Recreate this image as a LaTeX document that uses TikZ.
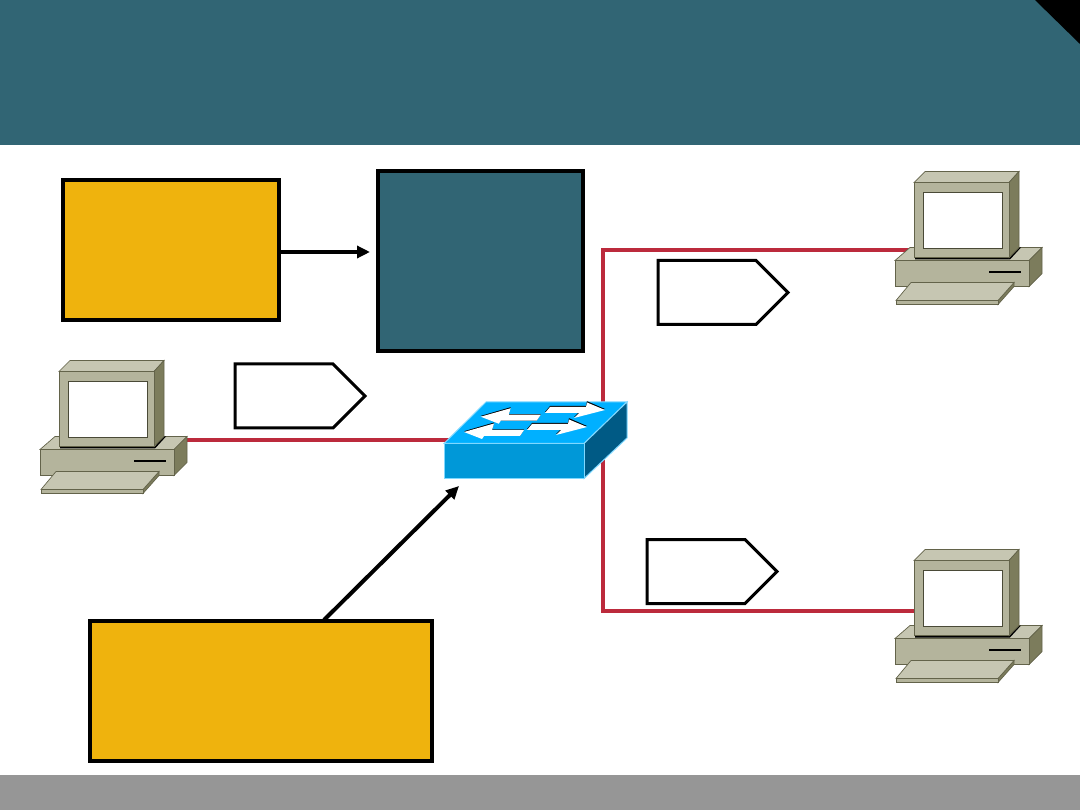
\documentclass[tikz,border=0pt]{standalone}
\usetikzlibrary{arrows.meta, shapes.symbols}
\definecolor{hdteal}{HTML}{316574}
\definecolor{hdgray}{HTML}{969696}
\definecolor{boxyellow}{HTML}{EFB30D}
\definecolor{linkred}{HTML}{BC2A3C}
\definecolor{pcfront}{HTML}{B4B49C}
\definecolor{pctop}{HTML}{C6C6B2}
\definecolor{pcside}{HTML}{7C7C5C}
\definecolor{swtopc}{HTML}{00B0FF}
\definecolor{swfront}{HTML}{0098D8}
\definecolor{swside}{HTML}{005A85}
\definecolor{swedge}{HTML}{7FD8FF}
\begin{document}
\begin{tikzpicture}[
  x=1pt,y=-1pt,
  solidbox/.style={rectangle, draw=black, fill=#1, line width=4pt, outer sep=0pt, inner sep=0pt},
  tagbox/.style={signal, signal to=east, signal pointer angle=90, draw=black, fill=white, line width=3pt, outer sep=0pt, inner sep=0pt, minimum width=130pt, minimum height=64pt},
  link/.style={linkred, line width=4pt},
  callout/.style={-{Triangle[length=13pt,width=12pt]}, black, line width=4pt},
  pcpart/.style={fill=#1, draw=pcside!80!black, line width=0.7pt},
  swpart/.style={fill=#1, draw=swedge, line width=1pt},
  pics/computer/.style={code={
    \path[pcpart=pctop] (0,89)--(15,76)--(147,76)--(134,89)--cycle;
    \path[pcpart=pcside] (134,89)--(147,76)--(147,102)--(134,115)--cycle;
    \path[pcpart=pcfront] (0,89) rectangle (134,115);
    \draw[black, line width=2pt] (94,100.5)--(126,100.5);
    \fill[black] (20,86)--(115,86)--(122,76)--(126,76)--(115,88)--(20,88)--cycle;
    \path[pcpart=pctop] (19,11)--(30,0)--(124,0)--(114,11)--cycle;
    \path[pcpart=pcside] (114,11)--(124,0)--(124,76)--(114,86)--cycle;
    \path[pcpart=pcfront] (19,11) rectangle (114,86);
    \path[fill=white, draw=pcside!60!black, line width=0.7pt] (28,21) rectangle (107,77);
    \path[pcpart=pcside] (103,129)--(119,111)--(119,115)--(103,133)--cycle;
    \path[pcpart=pcfront] (1,129) rectangle (103,133);
    \path[pcpart=pctop] (1,129)--(16,111)--(119,111)--(103,129)--cycle;
  }},
  pics/swleft/.style={code={
    \fill[black] (0,-0.8)--(30,-9.5)--(28,-2.5)--(60,-2.5)--(56,4)--(19,4)--(17,6)--cycle;
    \fill[white] (0,0)--(30,-8.5)--(28,-2)--(60,-2)--(56,4)--(20,4)--(18,7)--cycle;
  }},
  pics/swright/.style={code={
    \fill[black] (0,-1)--(-18,-8.8)--(-19,-4)--(-55,-4)--(-60,2)--(-46,2)--(-26,2)--(-31,7)--cycle;
    \fill[white] (0,0)--(-18,-7.5)--(-19,-3)--(-55,-3)--(-60,3)--(-26,3)--(-31,8)--cycle;
  }},
]
\useasboundingbox (0,0) rectangle (1080,810);
% header and footer bands
\fill[hdteal] (0,0) rectangle (1080,145);
\fill[black] (1035,0)--(1080,0)--(1080,44)--cycle;
\fill[hdgray] (0,775) rectangle (1080,810);

\coordinate (pcleft) at (180,440);
\coordinate (pcupper) at (960,250);
\coordinate (pclower) at (960,611);
\coordinate (swwest) at (460,440);
\coordinate (swnorth) at (603,420);
\coordinate (swsouth) at (603,460);
\coordinate (swfoot) at (459,486);
\coordinate (headend) at (370,252);
\coordinate (noteout) at (324,620);

\draw[link] (pcleft)--(swwest);
\draw[link] (swnorth)|-(pcupper);
\draw[link] (swsouth)|-(pclower);

\node[solidbox=boxyellow, minimum width=216pt, minimum height=140pt] (notea) at (171,250) {};
\node[solidbox=hdteal, minimum width=205pt, minimum height=180pt] (core) at (480.5,261) {};
\node[solidbox=boxyellow, minimum width=342pt, minimum height=140pt] (noteb) at (261,691) {};
\node[tagbox] (tagin) at (284,396) {};
\node[tagbox] (tagup) at (707,292.5) {};
\node[tagbox] (tagdown) at (696,571.5) {};

\draw[callout] (notea.east|-headend)--(headend);
\draw[callout] (noteout)--(swfoot);

% switch
\path[swpart=swtopc] (444,443.5)--(486,402)--(627,402)--(584,443.5)--cycle;
\path[swpart=swside] (584,443.5)--(627,402)--(627,438)--(584,478.5)--cycle;
\path[swpart=swfront] (444,443.5) rectangle (584,478.5);
\pic at (480.7,416.7) {swleft};
\pic at (464,432) {swleft};
\pic at (605,410) {swright};
\pic at (587,427) {swright};

\pic at (40,360.5) {computer};
\pic at (895,171.5) {computer};
\pic at (895,549.5) {computer};
\end{tikzpicture}
\end{document}
